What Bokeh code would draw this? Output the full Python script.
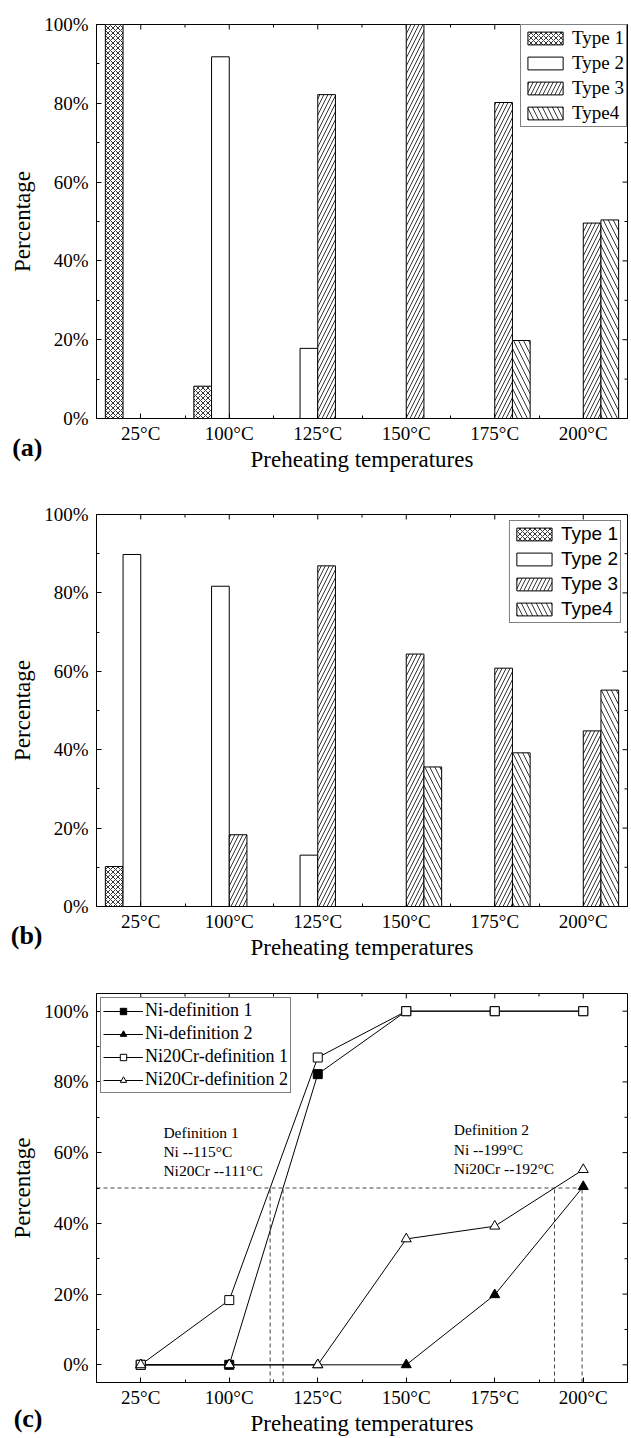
import math
from bokeh.plotting import figure
from bokeh.layouts import column
from bokeh.models import (FixedTicker, Range1d, LinearAxis, Legend, LegendItem)
from bokeh.core.properties import value
from bokeh.embed import file_html
from bokeh.resources import INLINE

# ---------------- data ----------------
categories = ["25°C", "100°C", "125°C", "150°C", "175°C", "200°C"]
type_names = ["Type 1", "Type 2", "Type 3", "Type4"]

# (a) Ni
ni_type1 = [100.0, 8.2, 0.0, 0.0, 0.0, 0.0]
ni_type2 = [0.0, 91.8, 17.8, 0.0, 0.0, 0.0]
ni_type3 = [0.0, 0.0, 82.2, 100.0, 80.2, 49.6]
ni_type4 = [0.0, 0.0, 0.0, 0.0, 19.8, 50.4]

# (b) Ni20Cr
nicr_type1 = [10.2, 0.0, 0.0, 0.0, 0.0, 0.0]
nicr_type2 = [89.8, 81.7, 13.1, 0.0, 0.0, 0.0]
nicr_type3 = [0.0, 18.3, 86.9, 64.4, 60.8, 44.8]
nicr_type4 = [0.0, 0.0, 0.0, 35.6, 39.2, 55.2]

# (c) line series
line_names = ["Ni-definition 1", "Ni-definition 2", "Ni20Cr-definition 1", "Ni20Cr-definition 2"]
ni_def1 = [0.0, 0.0, 82.2, 100.0, 100.0, 100.0]
ni_def2 = [0.0, 0.0, 0.0, 0.0, 19.8, 50.4]
nicr_def1 = [0.0, 18.3, 86.9, 100.0, 100.0, 100.0]
nicr_def2 = [0.0, 0.0, 0.0, 35.6, 39.2, 55.2]
threshold = 50.0

ann_def1 = ["Definition 1", "Ni --115°C", "Ni20Cr --111°C"]
ann_def2 = ["Definition 2", "Ni --199°C", "Ni20Cr --192°C"]

panel_tags = ["(a)", "(b)", "(c)"]

y_ticks = [0, 20, 40, 60, 80, 100]
y_tick_labels = ["0%", "20%", "40%", "60%", "80%", "100%"]
y_minor = [10, 30, 50, 70, 90]

SERIF = "Liberation Serif"
SANS = "Liberation Sans"

x_idx = list(range(len(categories)))
x_minor = [i + 0.5 for i in x_idx[:-1]]
W = 631


def style_axis(ax, standoff):
    ax.major_tick_in = 5
    ax.major_tick_out = 0
    ax.minor_tick_in = 3
    ax.minor_tick_out = 0
    ax.axis_line_color = "black"
    ax.major_tick_line_color = "black"
    ax.minor_tick_line_color = "black"
    ax.major_label_text_color = "black"
    ax.major_label_text_font = SERIF
    ax.major_label_text_font_size = "19px"
    ax.major_label_standoff = standoff
    ax.axis_label_text_font = SERIF
    ax.axis_label_text_font_size = "23px"
    ax.axis_label_text_font_style = "normal"
    ax.axis_label_text_color = "black"


def base_figure(height, left, top, bottom, right, y0, y1):
    p = figure(width=W, height=height,
               x_range=Range1d(-0.5, len(categories) - 0.5),
               y_range=Range1d(y0, y1),
               output_backend="svg", toolbar_location=None,
               x_axis_location=None, y_axis_location=None,
               min_border_left=left, min_border_top=top,
               min_border_bottom=bottom, min_border_right=right)
    p.grid.visible = False
    p.outline_line_color = "black"
    p.outline_line_width = 1
    p.background_fill_color = "white"
    p.border_fill_alpha = 0
    x_over = {i: c for i, c in enumerate(categories)}
    y_over = {v: l for v, l in zip(y_ticks, y_tick_labels)}
    xax = LinearAxis(ticker=FixedTicker(ticks=x_idx, minor_ticks=x_minor),
                     major_label_overrides=x_over)
    style_axis(xax, 4)
    xax.axis_label = "Preheating temperatures"
    xax.axis_label_standoff = 0
    p.add_layout(xax, "below")
    yax = LinearAxis(ticker=FixedTicker(ticks=y_ticks, minor_ticks=y_minor),
                     major_label_overrides=y_over)
    style_axis(yax, 8)
    yax.axis_label = "Percentage"
    yax.axis_label_standoff = 6
    p.add_layout(yax, "left")

    # mirrored inward ticks on the top and right frame edges (outer half clipped)
    x_end = p.x_range.end
    y_end = p.y_range.end
    p.scatter(x=x_idx, y=[y_end] * len(x_idx), marker="dash", angle=math.pi / 2,
              size=10, line_color="black", line_width=1)
    p.scatter(x=x_minor, y=[y_end] * len(x_minor), marker="dash", angle=math.pi / 2,
              size=6, line_color="black", line_width=1)
    p.scatter(x=[x_end] * len(y_ticks), y=y_ticks, marker="dash",
              size=10, line_color="black", line_width=1)
    p.scatter(x=[x_end] * len(y_minor), y=y_minor, marker="dash",
              size=6, line_color="black", line_width=1)
    return p


def tag_figure(tag, margin):
    # a thin strip whose (tick-less) left axis carries the panel tag as its label
    t = figure(width=W, height=40, x_range=Range1d(0, 1), y_range=Range1d(0, 1),
               output_backend="svg", toolbar_location=None,
               x_axis_location=None, y_axis_location=None, min_border=0,
               margin=margin)
    t.grid.visible = False
    t.outline_line_color = None
    t.background_fill_alpha = 0
    t.border_fill_alpha = 0
    ax = LinearAxis(ticker=FixedTicker(ticks=[]), axis_label=tag,
                    axis_label_orientation="horizontal", axis_label_standoff=54,
                    axis_label_text_font=SERIF, axis_label_text_font_size="26px",
                    axis_label_text_font_style="bold", axis_label_text_color="black",
                    axis_line_color=None, major_tick_line_color=None,
                    minor_tick_line_color=None, major_tick_out=0, major_tick_in=0,
                    minor_tick_out=0, minor_tick_in=0, major_label_standoff=0)
    t.add_layout(ax, "left")
    return t


hatches = [("diagonal_cross", 5), (" ", 10), ("right_diagonal_line", 8), ("left_diagonal_line", 10)]
bar_w = 0.2


def bar_panel(series, legend_font, legend_margin, height, left, top, bottom, right):
    p = base_figure(height, left, top, bottom, right, 0, 100)
    items = []
    n = len(series)
    for k, vals in enumerate(series):
        off = (k - (n - 1) / 2) * bar_w
        xs = [i + off for i, v in zip(x_idx, vals) if v > 0]
        tops = [v for v in vals if v > 0]
        pat, sc = hatches[k]
        r = p.vbar(x=xs, top=tops, bottom=0, width=bar_w,
                   fill_color="white", line_color="black", line_width=1,
                   hatch_pattern=pat, hatch_scale=sc, hatch_color="black",
                   hatch_weight=0.8)
        items.append(LegendItem(label=type_names[k], renderers=[r]))
    leg = Legend(items=items, location="top_right", margin=legend_margin, padding=2,
                 spacing=3, glyph_width=44, glyph_height=16, label_height=21,
                 label_standoff=5, label_text_font=legend_font,
                 label_text_font_size="19px", label_text_color="black",
                 border_line_color="black", border_line_width=1,
                 background_fill_color="white", background_fill_alpha=1)
    p.add_layout(leg, "center")
    return p


# panel heights: 24+394+56 = 474 ; 40+392+56 = 488 ; 31+390+55 = 476  -> 1438
pa = bar_panel([ni_type1, ni_type2, ni_type3, ni_type4], SERIF, 0, 474, 94, 24, 56, 3)
pb = bar_panel([nicr_type1, nicr_type2, nicr_type3, nicr_type4], SANS, 6, 488, 93, 40, 56, 4)

# ---------------- (c) ----------------
pc = base_figure(476, 96, 31, 55, 3, -5, 105)


def crossing(vals, level):
    for i in range(len(vals) - 1):
        if vals[i] < level <= vals[i + 1]:
            return x_idx[i] + (level - vals[i]) / (vals[i + 1] - vals[i])
    return None


all_lines = [ni_def1, ni_def2, nicr_def1, nicr_def2]
cross = [crossing(v, threshold) for v in all_lines]
pc.line(x=[pc.x_range.start, max(cross)], y=[threshold, threshold],
        line_color="#444444", line_width=1, line_dash="4 3")
pc.segment(x0=cross, y0=[pc.y_range.start] * len(cross), x1=cross,
           y1=[threshold] * len(cross), line_color="#444444", line_width=1,
           line_dash="4 3")

markers = [("square", "black", 9), ("triangle", "black", 10),
           ("square", "white", 9), ("triangle", "white", 10)]
line_rs = [pc.line(x=x_idx, y=v, line_color="black", line_width=1) for v in all_lines]
mark_rs = []
for v, (m, fc, sz) in zip(all_lines, markers):
    mark_rs.append(pc.scatter(x=x_idx, y=v, marker=m, size=sz, fill_color=fc,
                              line_color="black", line_width=1))

pc.text(x=[0.256] * 3, y=[65.6, 60.3, 54.9], text=ann_def1,
        text_font=value(SERIF), text_font_size="15.5px", text_color="black",
        text_baseline="middle", text_align="left")
pc.text(x=[3.536] * 3, y=[66.5, 60.9, 55.5], text=ann_def2,
        text_font=value(SERIF), text_font_size="15.5px", text_color="black",
        text_baseline="middle", text_align="left")

leg_c = Legend(items=[LegendItem(label=n, renderers=[lr, mr])
                      for n, lr, mr in zip(line_names, line_rs, mark_rs)],
               location="top_left", margin=4, padding=2, spacing=2,
               glyph_width=40, glyph_height=16, label_height=19,
               label_standoff=2, label_text_font=SERIF,
               label_text_font_size="18px", label_text_color="black",
               border_line_color="black", border_line_width=1,
               background_fill_color="white", background_fill_alpha=1)
pc.add_layout(leg_c, "center")

# panel tags overlap the bottom-left corner of each panel (negative top margin)
ta = tag_figure(panel_tags[0], (-47, 0, 7, 0))
tb = tag_figure(panel_tags[1], (-47, 0, 7, 0))
tc = tag_figure(panel_tags[2], (-40, 0, 0, 0))

layout = column(pa, ta, pb, tb, pc, tc, spacing=0)
open("out.html", "w").write(file_html(layout, INLINE))
